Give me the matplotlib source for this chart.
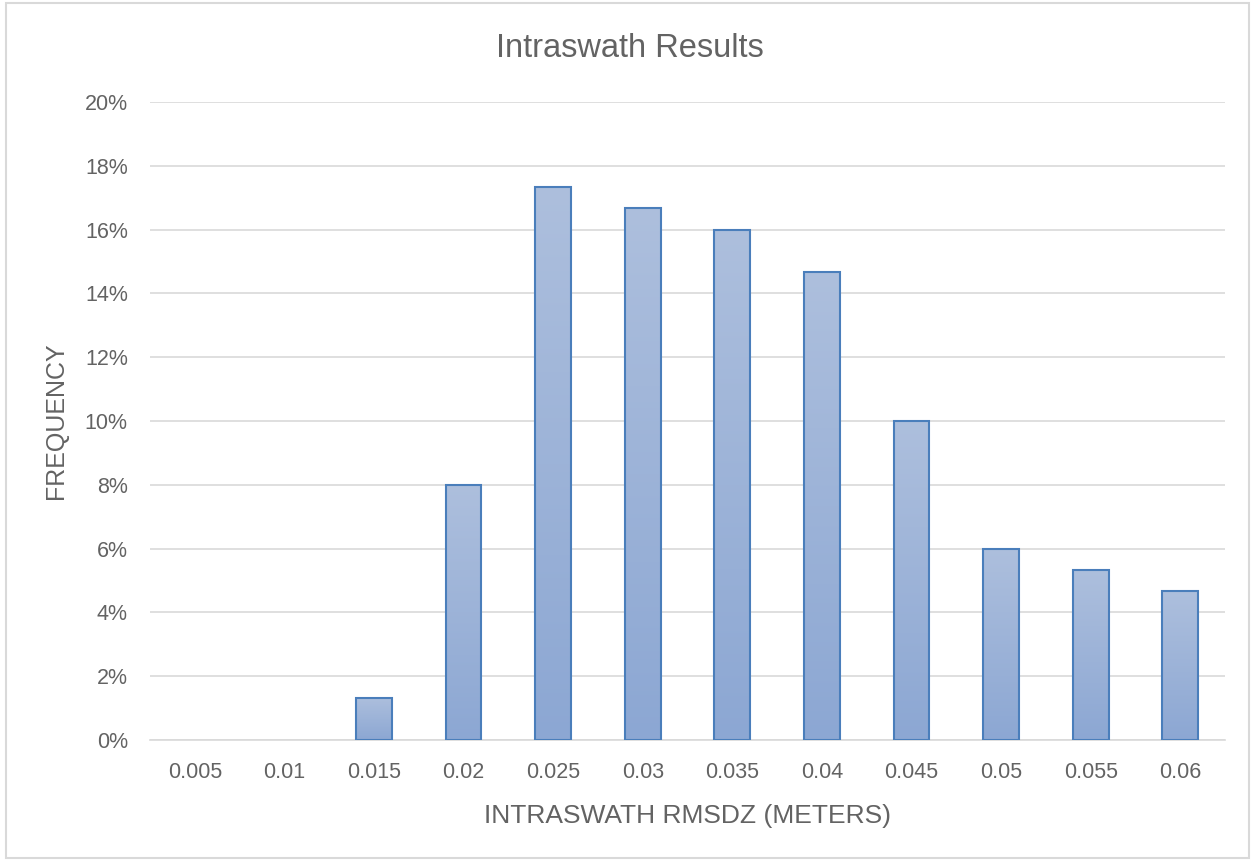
import numpy as np
import matplotlib
matplotlib.use("Agg")
import matplotlib.pyplot as plt
from matplotlib.patches import Rectangle
from matplotlib.colors import LinearSegmentedColormap
from matplotlib.ticker import PercentFormatter

# data: share of swaths per RMSDZ bin
bins = ["0.005", "0.01", "0.015", "0.02", "0.025", "0.03", "0.035", "0.04",
        "0.045", "0.05", "0.055", "0.06"]
freq = [0.0, 0.0, 1.33, 8.0, 17.33, 16.67, 16.0, 14.67, 10.0, 6.0, 5.33, 4.67]

plt.rcParams['font.family'] = ['Liberation Sans', 'DejaVu Sans']
grey = "#636363"

fig = plt.figure(figsize=(12.53, 8.61), dpi=100)
ax = fig.add_axes([0.1197, 0.1405, 0.8580, 0.7410])

x = np.arange(len(bins))
width = 0.4
cmap = LinearSegmentedColormap.from_list("bar", ["#8CA7D3", "#ADBFDD"])
grad = np.linspace(0, 1, 256).reshape(-1, 1)

for xi, v in zip(x, freq):
    if v <= 0:
        continue
    rect = Rectangle((xi - width / 2, 0), width, v, facecolor="none",
                     edgecolor="#4A7EBB", linewidth=1.5, zorder=3)
    ax.add_patch(rect)
    # gradient fill, clipped to the bar outline
    img = ax.imshow(grad, cmap=cmap, origin="lower", aspect="auto",
                    extent=(xi - width / 2, xi + width / 2, 0, v), zorder=2)
    img.set_clip_path(rect)

ax.set_xlim(-0.5, len(bins) - 0.5)
ax.set_ylim(0, 20)
ax.set_yticks(np.arange(0, 21, 2))
ax.yaxis.set_major_formatter(PercentFormatter(decimals=0))
ax.set_xticks(x)
ax.set_xticklabels(bins)
ax.tick_params(length=0, labelsize=15.5, labelcolor=grey)
ax.tick_params(axis="x", pad=16)
ax.tick_params(axis="y", pad=16)

ax.grid(axis="y", color="#D9D9D9", linewidth=1.2, zorder=0)
ax.set_axisbelow(True)
for s in ["top", "right", "left"]:
    ax.spines[s].set_visible(False)
ax.spines["bottom"].set_color("#D9D9D9")
ax.spines["bottom"].set_linewidth(1.2)

fig.text(0.503, 1 - 48.5 / 861, "Intraswath Results", fontsize=23.5, color=grey,
         ha="center", va="center")
ax.set_xlabel("INTRASWATH RMSDZ (METERS)", fontsize=19, color=grey, labelpad=15)
ax.set_ylabel("FREQUENCY", fontsize=18, color=grey, labelpad=12)

# chart frame
fig.patches.append(Rectangle((0.005, 0.003), 0.992, 0.993, transform=fig.transFigure,
                             fill=False, edgecolor="#D9D9D9", linewidth=1.5))

fig.savefig("out.png", dpi=100)
